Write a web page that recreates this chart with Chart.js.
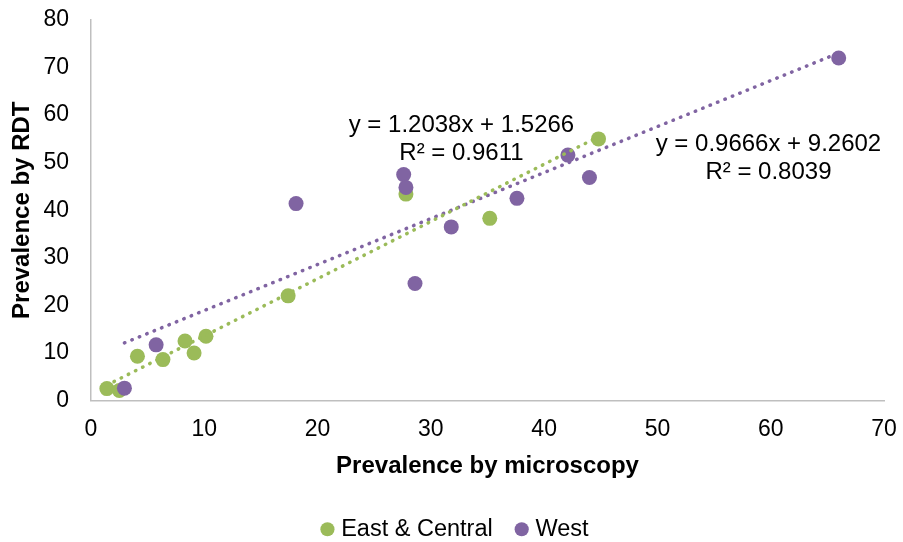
<!DOCTYPE html>
<html>
<head>
<meta charset="utf-8">
<script src="https://cdn.jsdelivr.net/npm/chart.js@4.4.1/dist/chart.umd.min.js"></script>
<style>
  html, body { margin: 0; padding: 0; background: #fff; }
  #wrap { width: 903px; height: 542px; }
</style>
</head>
<body>
<div id="wrap"><canvas id="grafico"></canvas></div>
<script>
// Prevalencia por microscopía (x) y por RDT (y), por región
const eastX = [1.4, 2.5, 4.1, 6.35, 8.3, 9.1, 10.15, 17.4, 27.8, 35.2, 44.8];
const eastY = [2.5, 2.1, 9.3, 8.6, 12.5, 10.0, 13.5, 22.0, 43.4, 38.3, 55.0];

const westX = [2.95, 5.75, 18.1, 27.6, 27.8, 28.6, 31.8, 37.6, 42.1, 44.0, 66.0];
const westY = [2.6, 11.7, 41.4, 47.5, 44.8, 24.6, 36.5, 42.5, 51.6, 46.9, 72.0];

// Líneas de tendencia lineales (pendiente, intercepto, R²)
const eastTrend = { slope: 1.2038, intercept: 1.5266, r2: 0.9611 };
const westTrend = { slope: 0.9666, intercept: 9.2602, r2: 0.8039 };

const xTicks = [0, 10, 20, 30, 40, 50, 60, 70];
const yTicks = [0, 10, 20, 30, 40, 50, 60, 70, 80];

const VERDE = '#9bbb59';
const MORADO = '#8064a2';
const FUENTE = "'Liberation Sans', Arial, sans-serif";

function puntos(xs, ys) {
    return xs.map((x, i) => ({ x: x, y: ys[i] }));
}

// Tendencia desde el x mínimo hasta el x máximo de la serie
function tendencia(xs, t) {
    const x0 = Math.min(...xs);
    const x1 = Math.max(...xs);
    return [
        { x: x0, y: t.slope * x0 + t.intercept },
        { x: x1, y: t.slope * x1 + t.intercept }
    ];
}

function ecuacion(t) {
    return ['y = ' + t.slope.toFixed(4) + 'x + ' + t.intercept.toFixed(4),
            'R² = ' + t.r2.toFixed(4)];
}

// Texto de las ecuaciones, anclado en coordenadas de datos
const pluginEcuaciones = {
    id: 'ecuaciones',
    afterDatasetsDraw(chart, args, opts) {
        const ctx = chart.ctx;
        const xs = chart.scales.x;
        const ys = chart.scales.y;
        ctx.save();
        ctx.font = opts.size + 'px ' + FUENTE;
        ctx.fillStyle = '#000';
        ctx.textAlign = 'center';
        ctx.textBaseline = 'middle';
        opts.etiquetas.forEach(et => {
            const px = xs.getPixelForValue(et.x);
            const py = ys.getPixelForValue(et.y);
            et.lineas.forEach((l, i) => {
                ctx.fillText(l, px, py + (i - (et.lineas.length - 1) / 2) * opts.interlineado);
            });
        });
        ctx.restore();
    }
};

const estiloTendencia = {
    showLine: true,
    pointRadius: 0,
    pointHoverRadius: 0,
    borderWidth: 3.5,
    borderDash: [0.5, 7.5],
    borderCapStyle: 'round',
    fill: false,
    order: 0
};

const ctx = document.getElementById('grafico').getContext('2d');
const grafico = new Chart(ctx, {
    type: 'scatter',
    data: {
        datasets: [
            {
                label: 'East & Central',
                data: puntos(eastX, eastY),
                backgroundColor: VERDE,
                borderColor: VERDE,
                borderWidth: 0,
                pointRadius: 7.5,
                pointStyle: 'circle',
                order: 2
            },
            {
                label: 'West',
                data: puntos(westX, westY),
                backgroundColor: MORADO,
                borderColor: MORADO,
                borderWidth: 0,
                pointRadius: 7.5,
                pointStyle: 'circle',
                order: 1
            },
            Object.assign({ label: 'tendencia-east', data: tendencia(eastX, eastTrend), borderColor: VERDE }, estiloTendencia),
            Object.assign({ label: 'tendencia-west', data: tendencia(westX, westTrend), borderColor: MORADO }, estiloTendencia)
        ]
    },
    options: {
        responsive: true,
        maintainAspectRatio: false,
        animation: false,
        layout: { padding: { left: 11, right: 0, top: 20, bottom: -9 } },
        plugins: {
            legend: {
                display: true,
                position: 'bottom',
                labels: {
                    usePointStyle: true,
                    boxWidth: 4,
                    boxHeight: 10,
                    padding: 27,
                    color: '#000',
                    font: { family: FUENTE, size: 23.5 },
                    sort: (a, b) => a.datasetIndex - b.datasetIndex,
                    filter: item => item.text.indexOf('tendencia') !== 0
                }
            },
            tooltip: { enabled: false },
            ecuaciones: {
                size: 24,
                interlineado: 28,
                etiquetas: [
                    { x: 32.7, y: 55.0, lineas: ecuacion(eastTrend) },
                    { x: 59.8, y: 51.0, lineas: ecuacion(westTrend) }
                ]
            }
        },
        scales: {
            x: {
                type: 'linear',
                min: 0,
                max: 70,
                afterBuildTicks: s => { s.ticks = xTicks.map(v => ({ value: v })); },
                afterFit: s => { s.height = 90; s.paddingRight = 19; },
                ticks: { color: '#000', padding: 15, font: { family: FUENTE, size: 23 } },
                grid: { display: true, drawOnChartArea: false, drawTicks: false },
                border: { display: true, color: '#bfbfbf', width: 1.5 },
                title: {
                    display: true,
                    text: 'Prevalence by microscopy',
                    color: '#000',
                    padding: { top: 0, bottom: 10 },
                    font: { family: FUENTE, size: 24, weight: 'bold' }
                }
            },
            y: {
                type: 'linear',
                min: 0,
                max: 80,
                afterBuildTicks: s => { s.ticks = yTicks.map(v => ({ value: v })); },
                afterFit: s => { s.width = 80; s.paddingTop = 0; s.paddingBottom = 0; },
                ticks: { color: '#000', padding: 22, font: { family: FUENTE, size: 23 } },
                grid: { display: true, drawOnChartArea: false, drawTicks: false },
                border: { display: true, color: '#bfbfbf', width: 1.5 },
                title: {
                    display: true,
                    text: 'Prevalence by RDT',
                    color: '#000',
                    padding: { top: -3.4, bottom: 0 },
                    font: { family: FUENTE, size: 24, weight: 'bold' }
                }
            }
        }
    },
    plugins: [pluginEcuaciones]
});
</script>
</body>
</html>
